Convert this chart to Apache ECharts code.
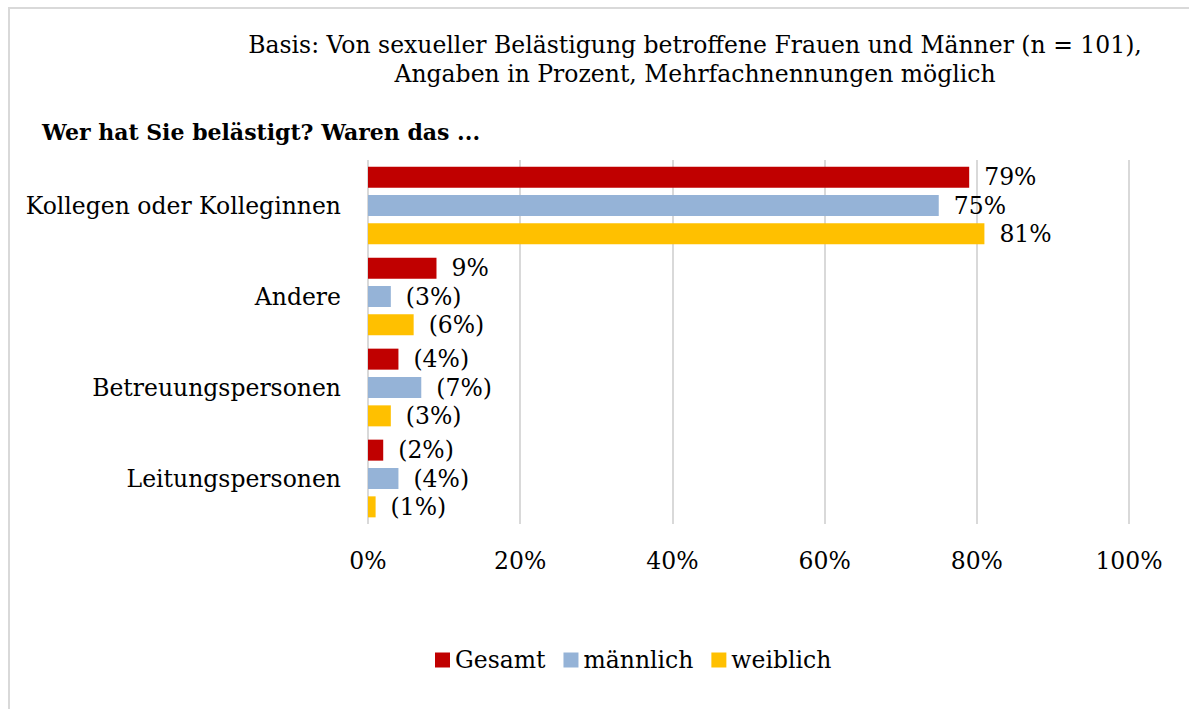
<!DOCTYPE html>
<html>
<head>
<meta charset="utf-8">
<script src="https://cdn.jsdelivr.net/npm/echarts@6/dist/echarts.min.js"></script>
<style>
  html, body { margin: 0; padding: 0; background: #fff; }
  #frame { position: absolute; left: 8px; top: 7px; width: 1200px; height: 720px; border: 2px solid #d9d9d9; box-sizing: border-box; }
  #main { position: absolute; left: 0; top: 0; width: 1189px; height: 709px; }
</style>
</head>
<body>
<div id="frame"></div>
<div id="main"></div>
<script>
const categories = ['Kollegen oder Kolleginnen', 'Andere', 'Betreuungspersonen', 'Leitungspersonen'];
const seriesNames = ['Gesamt', 'männlich', 'weiblich'];
const gesamt = [79, 9, 4, 2];
const maennlich = [75, 3, 7, 4];
const weiblich = [81, 6, 3, 1];
// small bases are shown in brackets
const gesamtLabels = ['79%', '9%', '(4%)', '(2%)'];
const maennlichLabels = ['75%', '(3%)', '(7%)', '(4%)'];
const weiblichLabels = ['81%', '(6%)', '(3%)', '(1%)'];
const xTicks = [0, 20, 40, 60, 80, 100];

const font = 'DejaVu Serif';
const fs = 23.5;
const colors = ['#C00000', '#95B3D7', '#FFC000'];

const chart = echarts.init(document.getElementById('main'), null, { renderer: 'svg' });

function makeSeries(name, values, labels) {
    return {
        name: name,
        type: 'bar',
        data: values,
        barWidth: 21,
        barGap: '35%',
        label: {
            show: true,
            position: 'right',
            distance: 15,
            fontFamily: font,
            fontSize: fs,
            color: '#000',
            formatter: p => labels[p.dataIndex]
        }
    };
}

chart.setOption({
    color: colors,
    animation: false,
    title: [
        {
            text: 'Basis: Von sexueller Belästigung betroffene Frauen und Männer (n = 101),\nAngaben in Prozent, Mehrfachnennungen möglich',
            left: 690,
            top: 25,
            textAlign: 'center',
            textStyle: { fontFamily: font, fontSize: fs, fontWeight: 'normal', color: '#000', lineHeight: 29, align: 'center' }
        },
        {
            text: 'Wer hat Sie belästigt? Waren das ...',
            left: 37,
            top: 116,
            textStyle: { fontFamily: font, fontSize: 22, fontWeight: 'bold', color: '#000' }
        }
    ],
    legend: {
        top: 643,
        left: 430,
        itemWidth: 15,
        itemHeight: 15,
        itemGap: 18,
        icon: 'rect',
        textStyle: { fontFamily: font, fontSize: fs, color: '#000' },
        data: seriesNames
    },
    grid: { left: 368, right: 60, top: 160, bottom: 185, containLabel: false },
    xAxis: {
        type: 'value',
        min: 0,
        max: 100,
        interval: 20,
        axisLine: { show: false },
        axisTick: { show: false },
        splitLine: { lineStyle: { color: '#d9d9d9', width: 2 } },
        axisLabel: {
            margin: 25,
            fontFamily: font,
            fontSize: fs,
            color: '#000',
            formatter: v => xTicks.includes(v) ? v + '%' : ''
        }
    },
    yAxis: {
        type: 'category',
        inverse: true,
        data: categories,
        axisLine: { show: false },
        axisTick: { show: false },
        axisLabel: { margin: 27, fontFamily: font, fontSize: fs, color: '#000' }
    },
    series: [
        makeSeries(seriesNames[0], gesamt, gesamtLabels),
        makeSeries(seriesNames[1], maennlich, maennlichLabels),
        makeSeries(seriesNames[2], weiblich, weiblichLabels)
    ]
});
</script>
</body>
</html>
